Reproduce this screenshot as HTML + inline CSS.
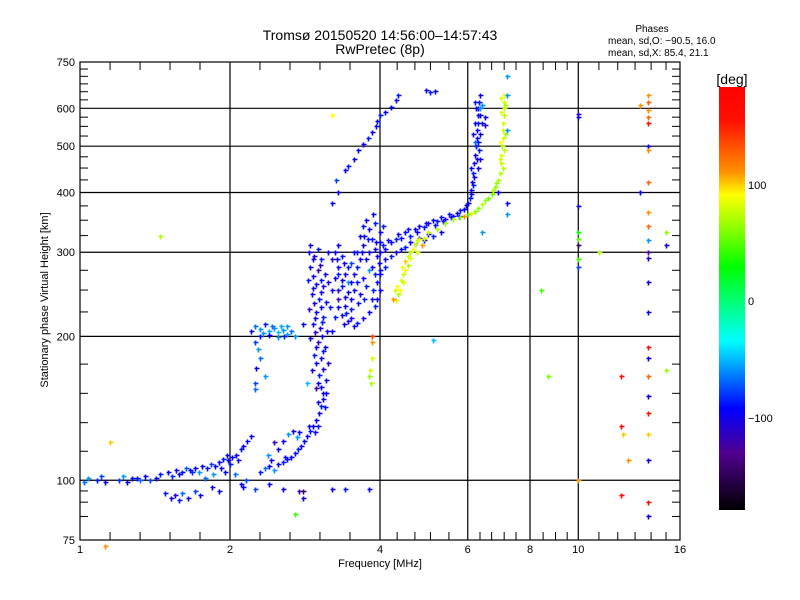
<!DOCTYPE html>
<html><head><meta charset="utf-8">
<style>
body{margin:0;background:#fff;}
svg{display:block;font-family:"Liberation Sans",sans-serif;}
</style></head>
<body>
<svg id="chart" width="800" height="600" xmlns="http://www.w3.org/2000/svg">
<defs>
<linearGradient id="cbar" x1="0" y1="0" x2="0" y2="1">
<stop offset="0" stop-color="#ff0000"/><stop offset="0.08" stop-color="#ff1000"/>
<stop offset="0.2" stop-color="#ff9000"/><stop offset="0.255" stop-color="#ffff00"/>
<stop offset="0.31" stop-color="#b0ff00"/><stop offset="0.425" stop-color="#00ff00"/>
<stop offset="0.6" stop-color="#00ffff"/><stop offset="0.76" stop-color="#0000ff"/>
<stop offset="0.865" stop-color="#500090"/><stop offset="1" stop-color="#000000"/>
</linearGradient>
</defs>
<text x="380" y="40" text-anchor="middle" font-size="14">Tromsø 20150520 14:56:00–14:57:43</text>
<text x="380" y="54" text-anchor="middle" font-size="14">RwPretec (8p)</text>
<text x="652" y="32" text-anchor="middle" font-size="10">Phases</text>
<text x="608" y="44" font-size="10">mean, sd,O: −90.5, 16.0</text>
<text x="608" y="56" font-size="10">mean, sd,X:  85.4, 21.1</text>
<text transform="translate(48,300) rotate(-90)" text-anchor="middle" font-size="11">Stationary phase Virtual Height [km]</text>
<text x="380" y="567" text-anchor="middle" font-size="11">Frequency [MHz]</text>
<g id="grid"></g>
<g id="marks"></g>
<rect x="80" y="62" width="600" height="478" fill="none" stroke="#000" stroke-width="1.2"/>
<rect x="719" y="87" width="26" height="423" fill="url(#cbar)"/>
<text x="732" y="84" text-anchor="middle" font-size="14">[deg]</text>
<text x="748" y="189" font-size="11">100</text>
<text x="748" y="305" font-size="11">0</text>
<text x="748" y="422" font-size="11">−100</text>
</svg>
<script>
const xTickLabels=[1,2,4,6,8,10,16];
const xGridValues=[2,4,6,8,10];
const xMinorTicks=[1.149,1.32,1.516,1.741,2.297,2.639,3.031,3.482,4.33,4.7,5.05,5.5,6.35,6.7,7.1,7.5,8.5,9,9.5,11,12,13,14,15];
const yTickLabels=[75,100,200,300,400,500,600,750];
const yGridValues=[100,200,300,400,500,600];
const yMinorTicks=[84,90,95,115,132,152,175,225,250,275,325,350,375,425,450,475,525,550,575,625,650,675,700,725];
const eTrace=[[1.02,99,-70],[1.04,101,-60],[1.08,100,-90],[1.1,102,-80],[1.12,99,-100],[1.2,100,-85],[1.22,102,-60],[1.24,99,-95],[1.3,101,-90],[1.32,100,-70],[1.35,102,-100],[1.42,101,-100],[1.45,103,-90],[1.5,104,-95],[1.53,102,-85],[1.56,105,-100],[1.6,104,-90],[1.63,106,-75],[1.66,105,-100],[1.7,106,-95],[1.73,104,-60],[1.76,107,-100],[1.8,106,-90],[1.83,108,-80],[1.87,107,-100],[1.9,109,-95],[1.94,111,-90],[1.98,110,-100],[2.02,112,-95],[2.06,113,-100],[2.1,116,-90],[2.12,118,-100],[2.16,121,-95],[2.2,124,-100],[1.78,101,-70],[1.85,103,-60],[1.95,104,-100],[2.05,103,-70],[2.1,98,-100],[2.15,100,-80],[1.48,94,-90],[1.52,92,-100],[1.55,93,-110],[1.58,91,-90],[1.6,94,-70],[1.65,92,-100],[1.7,95,-80],[1.74,93,-100],[1.84,97,-100],[1.9,95,-100],[1.27,101,-95],[1.38,100,-80],[1.58,103,-100],[1.68,104,-85],[1.92,106,-100],[2.0,108,-90],[2.08,110,-100],[1.97,113,-100]];
const bTrace=[[2.3,104,-90],[2.35,106,-70],[2.4,107,-100],[2.45,105,-60],[2.5,108,-100],[2.55,109,-90],[2.6,111,-100],[2.65,112,-95],[2.7,114,-100],[2.74,116,-90],[2.78,118,-100],[2.82,121,-95],[2.86,124,-100],[2.9,127,-90],[2.94,130,-100],[2.98,134,-95],[3.02,138,-100],[3.05,143,-90],[3.08,148,-100],[3.12,152,-95],[2.62,125,-60],[2.68,127,-100],[2.72,123,-60],[2.75,126,-100],[2.55,121,-100],[2.5,116,-100],[2.45,120,-120],[2.38,113,-60],[2.42,110,-100],[2.58,112,-90],[2.88,130,-100],[2.96,126,-100],[3.0,130,-90]];
const f1Cluster=[[2.2,205,-100],[2.25,210,-70],[2.3,207,-60],[2.35,212,-90],[2.4,205,-55],[2.45,208,-60],[2.5,204,-50],[2.55,206,-60],[2.6,202,-55],[2.65,205,-70],[2.3,200,-90],[2.4,201,-100],[2.5,199,-60],[2.7,200,-60],[2.25,195,-80],[2.28,188,-60],[2.3,180,-70],[2.26,172,-100],[2.24,160,-80],[2.25,155,-70],[2.35,165,-60],[2.6,210,-60],[2.8,212,-100],[2.33,203,-60],[2.43,210,-70],[2.53,210,-55],[2.57,200,-90]];
const fBlob=[[2.88,300,-100],[2.95,295,-110],[3.05,290,-90],[2.9,280,-100],[3.0,275,-120],[3.1,270,-100],[2.87,262,-90],[2.97,258,-100],[3.08,255,-110],[2.92,245,-100],[3.02,240,-90],[3.12,236,-100],[2.88,228,-120],[2.98,225,-100],[3.08,220,-90],[2.93,212,-100],[3.03,208,-110],[3.13,205,-100],[2.9,198,-100],[3.0,195,-120],[3.1,190,-100],[2.95,183,-90],[3.05,180,-100],[3.15,176,-110],[2.92,170,-100],[3.02,166,-90],[3.12,162,-100],[2.97,156,-120],[3.07,152,-100],[3.0,146,-100],[3.1,142,-90],[2.9,310,-100],[3.0,305,-90],[3.25,300,-100],[3.35,295,-90],[3.3,280,-100],[3.4,270,-110],[3.25,265,-100],[3.35,255,-90],[3.45,248,-100],[3.3,240,-120],[3.4,232,-100],[3.5,228,-90],[3.35,222,-100],[3.45,215,-110],[3.55,210,-100],[3.6,213,-90],[3.7,218,-100],[3.8,225,-100],[3.9,232,-90],[3.95,240,-100],[4.0,250,-100],[3.6,300,-90],[3.7,310,-100],[3.65,325,-100],[3.7,340,-90],[3.75,350,-100],[3.8,335,-100],[3.85,320,-90],[3.9,305,-100],[3.95,295,-100],[3.5,285,-80],[3.55,270,-100],[3.6,260,-90],[3.7,265,-100],[3.8,275,-60],[3.75,290,-100],[3.85,280,-100],[3.9,270,-90],[3.98,285,-100],[3.3,310,-100],[3.2,290,-110],[3.2,250,-100],[3.25,220,-90],[3.2,205,-100],[3.45,260,-60],[3.5,240,-100],[3.65,245,-100],[3.75,255,-90],[3.55,300,-100],[3.87,360,-100],[3.9,345,-90],[4.0,330,-100],[4.05,340,-90],
[2.93,290,-100],[3.03,282,-110],[2.93,268,-100],[3.04,263,-90],[2.94,252,-100],[3.05,248,-100],[2.95,235,-110],[3.05,230,-100],[2.96,218,-100],[3.06,214,-90],[2.96,204,-120],[3.06,200,-100],[2.98,190,-100],[3.08,186,-90],[2.98,176,-100],[3.08,171,-110],[3.0,160,-100],[3.05,157,-100],[3.28,290,-100],[3.38,285,-100],[3.3,270,-90],[3.36,262,-100],[3.3,250,-110],[3.4,242,-100],[3.3,230,-100],[3.42,224,-90],[3.38,212,-100],[3.5,218,-100],[3.5,260,-100],[3.6,280,-90],[3.65,290,-100],[3.62,235,-100],[3.72,240,-90],[3.85,240,-100],[3.8,300,-100],[3.68,300,-100],[3.78,320,-90],[3.72,325,-100],[3.92,315,-100],[3.95,260,-100],[3.88,250,-90],[4.0,270,-100],[4.0,315,-100],[3.55,250,-100],[3.45,280,-90],[3.15,300,-100],[3.15,260,-100],[3.18,230,-90]];
const fTrace=[[4.0,300,-100],[4.05,310,-90],[4.1,305,-100],[4.2,315,-100],[4.3,320,-90],[4.4,322,-100],[4.5,330,-100],[4.6,325,-90],[4.7,335,-100],[4.8,340,-100],[4.9,338,-90],[5.0,345,-100],[5.1,350,-100],[5.2,348,-90],[5.3,355,-100],[5.4,352,-100],[5.5,360,-90],[5.6,358,-100],[5.7,362,-100],[5.8,368,-90],[5.9,370,-100],[6.0,380,-100],[6.05,390,-90],[6.1,405,-100],[6.12,420,-100],[6.15,440,-90],[6.17,460,-100],[6.2,480,-100],[6.22,500,-90],[6.25,520,-100],[6.25,540,-100],[6.28,560,-90],[6.3,580,-100],[6.3,600,-100],[6.32,620,-90],[6.35,640,-100],[6.2,510,-70],[6.35,530,-100],[6.22,600,-100],[6.4,560,-90],[6.35,470,-100],[6.1,450,-100],[6.4,610,-60],[4.1,290,-100],[4.2,295,-90],[4.3,300,-100],[4.4,305,-100],[4.5,308,-90],[4.7,312,-100],[4.9,318,-100],[5.1,325,-90],[5.3,330,-100],[4.0,275,-100],[4.1,280,-90],
[4.15,318,-100],[4.35,328,-100],[4.55,335,-90],[4.75,330,-100],[4.95,345,-100],[5.15,342,-90],[5.35,348,-100],[5.55,355,-100],[5.75,358,-90],[5.95,376,-100],[6.08,398,-100],[6.15,415,-90],[6.18,430,-100],[6.3,450,-100],[6.33,490,-90],[6.35,580,-100],[6.2,560,-100],[6.2,620,-90],[6.35,600,-60],[6.25,470,-100],[6.28,510,-90],[6.15,530,-100],[4.6,315,-100],[4.8,322,-90],[5.0,328,-100]];
const xTrace=[[4.3,238,100],[4.35,245,90],[4.32,255,110],[4.4,262,100],[4.45,270,95],[4.42,280,105],[4.5,288,120],[4.55,295,100],[4.6,300,90],[4.65,305,110],[4.7,312,100],[4.75,318,90],[4.8,320,110],[4.9,322,100],[4.85,310,130],[4.75,300,100],[4.6,292,100],[4.5,275,110],[5.0,330,95],[5.2,335,90],[5.4,345,80],[5.6,352,90],[5.8,356,80],[6.0,360,70],[6.1,362,100],[6.3,372,75],[6.5,385,80],[6.7,398,70],[6.8,410,80],[6.9,425,85],[6.95,440,90],[7.0,460,95],[7.0,480,100],[7.02,500,90],[7.05,520,100],[7.05,540,95],[7.07,560,100],[7.08,580,90],[7.08,600,95],[7.1,620,100],[7.1,640,105],[6.98,510,110],[7.12,530,85],[6.6,390,70],[5.9,358,130],[4.25,240,130],[4.28,250,100],[4.38,250,110],[4.45,260,100],[4.55,282,90],[6.2,366,80],[6.4,378,90],[6.75,405,85],[6.85,418,80],[7.05,450,90],[6.95,470,100],[7.1,490,95],[7.0,590,100],[7.12,610,90],[7.0,630,100]];
const upperO=[[3.4,445,-100],[3.45,455,-90],[3.55,470,-100],[3.62,490,-95],[3.7,505,-100],[3.78,520,-90],[3.85,535,-100],[3.92,552,-95],[3.95,565,-100],[4.0,580,-90],[4.1,590,-100],[4.2,605,-95],[4.3,625,-100],[4.35,640,-90],[4.95,655,-100],[5.05,650,-90],[5.15,652,-100],[3.3,400,-100],[3.27,425,-80],[3.2,380,-100]];
const sporadic=[[2.12,97,-100],[2.25,96,-80],[2.4,98,-100],[2.55,96,-100],[2.75,95,-120],[2.8,92,-100],[3.2,96,-100],[3.4,96,-90],[3.8,96,-100],[2.8,95,-150],[10,585,-120],[10,575,-100],[10,375,-100],[10,330,30],[10,320,60],[10,310,-150],[10,290,50],[10,280,-80],[10,100,130],[12.2,165,160],[12.2,130,170],[12.3,125,120],[12.2,93,170],[12.6,110,130],[13.3,610,130],[13.3,400,-100],[13.8,640,130],[13.8,620,140],[13.8,595,130],[13.8,575,140],[13.8,560,160],[13.8,500,-100],[13.8,490,130],[13.8,420,140],[13.8,365,130],[13.8,340,140],[13.8,318,-60],[13.8,300,-130],[13.8,292,-110],[13.8,260,-100],[13.8,225,-100],[13.8,190,160],[13.8,180,-100],[13.8,165,140],[13.8,150,-100],[13.8,138,160],[13.8,125,120],[13.8,110,-100],[13.8,90,170],[13.8,84,-100],[15,330,80],[15,310,-100],[15,170,80],[11,300,90],[8.4,250,50],[8.7,165,70],[6.9,400,-100],[7.2,700,-60],[7.2,640,-60],[7.2,540,-60],[7.2,360,-60],[7.2,380,-100],[3.85,200,150],[3.85,195,130],[3.85,180,100],[3.82,170,100],[3.8,165,80],[3.83,160,90],[1.15,120,120],[1.45,325,90],[3.2,580,110],[6.5,575,-100],[6.5,555,-120],[2.7,85,50],[1.12,73,130],[6.4,330,-60],[5.1,197,-50],[2.85,160,-50]];

const NS='http://www.w3.org/2000/svg';
function xs(f){return 80+150*Math.log2(f);}
function ys(h){return 540-478*Math.log10(h/75);}
const stops=[[180,[255,0,0]],[160,[255,16,0]],[130,[255,144,0]],[110,[255,255,0]],[90,[176,255,0]],[30,[0,255,0]],[-35,[0,255,255]],[-95,[0,0,255]],[-135,[80,0,144]],[-180,[0,0,0]]];
function color(p){
  for(let i=0;i<stops.length-1;i++){
    const a=stops[i],b=stops[i+1];
    if(p<=a[0]&&p>=b[0]){const t=(a[0]-p)/(a[0]-b[0]);
      return 'rgb('+a[1].map((v,k)=>Math.round(v+(b[1][k]-v)*t)).join(',')+')';}
  }
  return p>180?'rgb(255,0,0)':'rgb(0,0,0)';
}
const grid=document.getElementById('grid');
function line(x1,y1,x2,y2,w){const l=document.createElementNS(NS,'line');
  l.setAttribute('x1',x1);l.setAttribute('y1',y1);l.setAttribute('x2',x2);l.setAttribute('y2',y2);
  l.setAttribute('stroke','#000');l.setAttribute('stroke-width',w);grid.appendChild(l);return l;}
function txt(x,y,s,anchor){const t=document.createElementNS(NS,'text');
  t.setAttribute('x',x);t.setAttribute('y',y);t.setAttribute('font-size','11');t.setAttribute('text-anchor',anchor);
  t.textContent=s;grid.appendChild(t);return t;}
xGridValues.forEach(v=>{const l=line(xs(v),62,xs(v),540,1.2);
  
  });
yGridValues.forEach(v=>{const l=line(80,ys(v),680,ys(v),1.2);
  
  });
xMinorTicks.forEach(v=>{const x=xs(v);
  const a=line(x,540,x,532,1);
  
  const b=line(x,62,x,70,1);
  });
yMinorTicks.forEach(v=>{const y=ys(v);
  const a=line(80,y,88,y,1);
  
  const b=line(680,y,672,y,1);
  });
xTickLabels.forEach(v=>{const t=txt(xs(v),553,String(v),'middle');
  
  });
yTickLabels.forEach(v=>{const t=txt(75,ys(v)+4,String(v),'end');
  
  });
const marks=document.getElementById('marks');
const groups=[['e-trace',eTrace],['b-trace',bTrace],['f1-cluster',f1Cluster],['f-blob',fBlob],['o-trace',fTrace],['x-trace',xTrace],['upper-o-trace',upperO],['sporadic',sporadic]];
groups.forEach(([name,pts])=>{
  const g=document.createElementNS(NS,'g');
  
  
  pts.forEach(([f,h,p])=>{
    const x=Math.round(xs(f))+0.5,y=Math.round(ys(h))+0.5;
    const pth=document.createElementNS(NS,'path');
    pth.setAttribute('d','M'+(x-2)+' '+y+'H'+(x+3)+'M'+x+' '+(y-2)+'V'+(y+3));
    pth.setAttribute('stroke',color(p));pth.setAttribute('stroke-width','1.6');
    
    
    g.appendChild(pth);
  });
  marks.appendChild(g);
});
</script>
</body></html>
